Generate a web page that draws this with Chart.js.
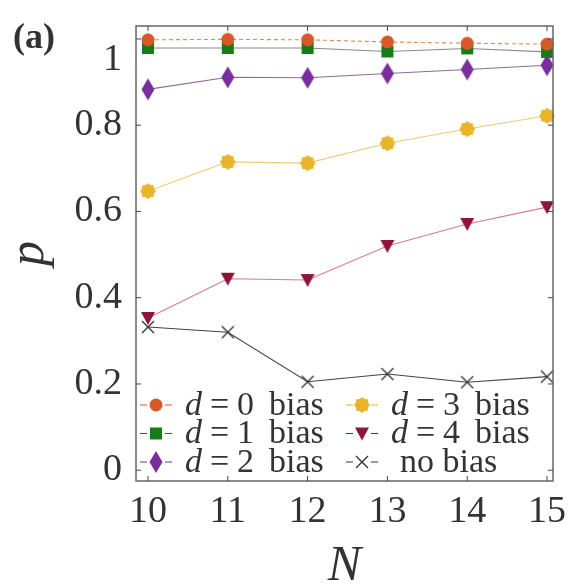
<!DOCTYPE html>
<html lang="en">
<head>
    <meta charset="UTF-8">
    <title>p vs N</title>
    <script src="https://cdn.jsdelivr.net/npm/chart.js"></script>
    <style>
        html, body { margin: 0; padding: 0; background: #fff; }
        canvas { display: block; }
        .warm { position: absolute; left: -999px; top: 0; font-family: "Liberation Serif"; }
    </style>
</head>
<body>
    <span class="warm">0.8 bias</span><span class="warm" style="font-style: italic">d N p</span><span class="warm" style="font-weight: bold">(a)</span>
    <canvas id="pChart" width="568" height="584"></canvas>

    <script>
        // values
        const nValues = [10, 11, 12, 13, 14, 15];
        const d0Bias = [0.998, 0.999, 0.998, 0.993, 0.990, 0.988];
        const d1Bias = [0.979, 0.979, 0.979, 0.971, 0.978, 0.970];
        const d2Bias = [0.883, 0.911, 0.910, 0.920, 0.929, 0.939];
        const d3Bias = [0.647, 0.715, 0.712, 0.758, 0.791, 0.822];
        const d4Bias = [0.353, 0.444, 0.441, 0.520, 0.571, 0.610];
        const noBias = [0.332, 0.320, 0.205, 0.223, 0.204, 0.217];
        const yTicks = [0, 0.2, 0.4, 0.6, 0.8, 1];
        const xTicks = [10, 11, 12, 13, 14, 15];

        const serif = '"Liberation Serif", serif';

        function makeMarker(kind, color) {
            const c = document.createElement('canvas');
            c.width = 24; c.height = 24;
            const g = c.getContext('2d');
            g.fillStyle = color;
            g.strokeStyle = color;
            g.beginPath();
            if (kind === 'circle') {
                g.arc(12, 12, 6.5, 0, Math.PI * 2);
                g.fill();
            } else if (kind === 'square') {
                g.fillRect(6, 6, 12, 12);
            } else if (kind === 'diamond') {
                g.moveTo(12, 1); g.lineTo(18.5, 12); g.lineTo(12, 23); g.lineTo(5.5, 12);
                g.closePath(); g.fill();
            } else if (kind === 'blob') {
                for (let k = 0; k < 16; k++) {
                    const a = k * Math.PI / 8;
                    const r = k % 2 ? 6.6 : 8;
                    g.lineTo(12 + r * Math.cos(a), 12 + r * Math.sin(a));
                }
                g.closePath(); g.fill();
            } else if (kind === 'down') {
                g.moveTo(5, 6); g.lineTo(19, 6); g.lineTo(12, 19);
                g.closePath(); g.fill();
            } else if (kind === 'x') {
                g.lineWidth = 1.4;
                g.moveTo(6, 6); g.lineTo(18, 18);
                g.moveTo(18, 6); g.lineTo(6, 18);
                g.stroke();
            }
            return c;
        }

        function series(label, values, kind, color, lineColor, dash) {
            return {
                label: label,
                data: values.map((v, i) => ({ x: nValues[i], y: v })),
                borderColor: lineColor,
                backgroundColor: color,
                borderWidth: 1.1,
                borderDash: dash || [],
                pointStyle: makeMarker(kind, color),
                markerColor: color,
                tension: 0,
                clip: false
            };
        }

        const datasets = [
            series('0', d0Bias, 'circle', '#d9582a', '#e0894a', [4, 3]),
            series('1', d1Bias, 'square', '#167c18', '#8a8a8a'),
            series('2', d2Bias, 'diamond', '#7a2e9c', '#8a6a96'),
            series('3', d3Bias, 'blob', '#e8b52a', '#eccb78'),
            series('4', d4Bias, 'down', '#8c1538', '#d97a90'),
            series('no bias', noBias, 'x', '#333333', '#444444')
        ];

        const frame = {
            id: 'frame',
            afterDatasetsDraw(chart) {
                const ctx = chart.ctx;
                const a = chart.chartArea;
                const xs = chart.scales.x, ys = chart.scales.y;
                ctx.save();
                ctx.strokeStyle = '#666';
                ctx.lineWidth = 1.5;
                ctx.strokeRect(a.left, a.top, a.right - a.left, a.bottom - a.top);
                ctx.lineWidth = 1;
                ctx.strokeStyle = '#444';
                ctx.beginPath();
                yTicks.forEach(v => {
                    const y = ys.getPixelForValue(v);
                    ctx.moveTo(a.left, y); ctx.lineTo(a.left + 5, y);
                    ctx.moveTo(a.right, y); ctx.lineTo(a.right - 5, y);
                });
                xTicks.forEach(v => {
                    const x = xs.getPixelForValue(v);
                    ctx.moveTo(x, a.bottom); ctx.lineTo(x, a.bottom - 5);
                    ctx.moveTo(x, a.top); ctx.lineTo(x, a.top + 5);
                });
                ctx.stroke();

                // key, two columns of three
                chart.data.datasets.forEach((ds, i) => {
                    const col = Math.floor(i / 3), row = i % 3;
                    const mx = a.left + 20 + col * 206;
                    const my = a.bottom - 76 + row * 28.5;
                    ctx.strokeStyle = ds.markerColor;
                    ctx.lineWidth = 1.1;
                    ctx.setLineDash([]);
                    ctx.beginPath();
                    ctx.moveTo(mx - 16, my); ctx.lineTo(mx - 9, my);
                    ctx.moveTo(mx + 9, my); ctx.lineTo(mx + 16, my);
                    ctx.stroke();
                    ctx.drawImage(ds.pointStyle, mx - 12, my - 12);
                    ctx.fillStyle = '#333';
                    ctx.textBaseline = 'middle';
                    ctx.textAlign = 'left';
                    const tx = mx + 29;
                    ctx.font = '34px ' + serif;
                    if (ds.label === 'no bias') {
                        ctx.fillText('no bias', tx + 9, my + 1);
                    } else {
                        ctx.fillText('=', tx + 25, my + 1);
                        ctx.fillText(ds.label, tx + 52, my + 1);
                        ctx.fillText('bias', tx + 84, my + 1);
                        ctx.font = 'italic 34px ' + serif;
                        ctx.fillText('d', tx, my + 1);
                    }
                });

                ctx.font = 'bold 36px ' + serif;
                ctx.fillStyle = '#333';
                ctx.textBaseline = 'alphabetic';
                ctx.fillText('(a)', 13, 48);
                ctx.restore();
            }
        };

        function draw() {
            new Chart(document.getElementById('pChart'), {
                type: 'line',
                data: { datasets: datasets },
                plugins: [frame],
                options: {
                    responsive: false,
                    animation: false,
                    layout: { padding: { left: 0, right: 15, top: 26, bottom: 0 } },
                    plugins: {
                        legend: { display: false },
                        tooltip: { enabled: false }
                    },
                    scales: {
                        x: {
                            type: 'linear',
                            min: 9.85,
                            max: 15.075,
                            grid: { display: false, drawTicks: false },
                            border: { display: false },
                            afterBuildTicks: s => { s.ticks = xTicks.map(v => ({ value: v })); },
                            afterFit: s => { s.height = 103; s.paddingLeft = 0; s.paddingRight = 0; },
                            ticks: {
                                color: '#333',
                                font: { family: serif, size: 38 },
                                padding: 8,
                                maxRotation: 0,
                                autoSkip: false
                            },
                            title: {
                                display: true,
                                text: 'N',
                                color: '#333',
                                font: { family: serif, size: 50, style: 'italic', lineHeight: 0.7 },
                                padding: { top: 0, bottom: 0 }
                            }
                        },
                        y: {
                            min: -0.025,
                            max: 1.03,
                            grid: { display: false, drawTicks: false },
                            border: { display: false },
                            afterBuildTicks: s => { s.ticks = yTicks.map(v => ({ value: v })); },
                            afterFit: s => { s.width = 136; s.paddingTop = 0; s.paddingBottom = 0; },
                            ticks: {
                                color: '#333',
                                font: { family: serif, size: 38, lineHeight: 1.1 },
                                padding: 14,
                                autoSkip: false,
                                // the top label sits a little low in the original
                                callback: v => v === 1 ? ['', '1'] : String(Math.round(v * 10) / 10)
                            },
                            title: {
                                display: true,
                                text: 'p',
                                color: '#333',
                                font: { family: serif, size: 50, style: 'italic', lineHeight: 1 },
                                padding: { top: 5, bottom: 0 }
                            }
                        }
                    }
                }
            });
        }

        Promise.all([
            document.fonts.load('38px "Liberation Serif"'),
            document.fonts.load('italic 38px "Liberation Serif"'),
            document.fonts.load('bold 36px "Liberation Serif"')
        ]).then(draw, draw);
    </script>
</body>
</html>
